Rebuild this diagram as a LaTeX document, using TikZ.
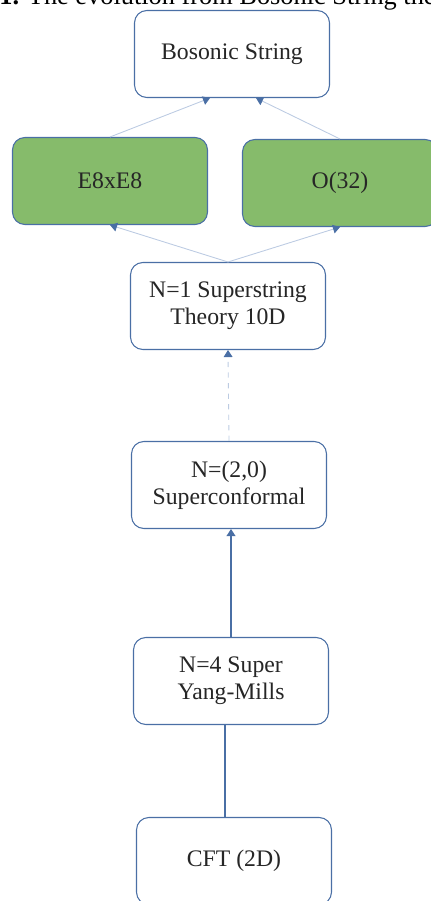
\documentclass[tikz,border=0pt]{standalone}
\usepackage{fontspec}
\setmainfont{Liberation Serif}
\usetikzlibrary{arrows.meta}
\definecolor{boxblue}{HTML}{4A6FA5}
\definecolor{boxgreen}{HTML}{86BB6B}
\definecolor{linkblue}{HTML}{BCCBE2}
\begin{document}
\begin{tikzpicture}[x=0.02cm, y=-0.02cm,
	theory/.style={shape=rectangle, rounded corners=7pt, draw=boxblue, line width=0.6pt,
		fill=white, minimum width=3.9cm, minimum height=1.74cm, align=center,
		font=\fontsize{13.5}{15.5}\selectfont, text=black!85},
	branch/.style={theory, fill=boxgreen},
	tip/.style={-{Triangle[width=5pt, length=4pt, color=boxblue]}},
	faint/.style={draw=linkblue, line width=0.5pt},
	strong/.style={draw=boxblue, line width=0.8pt}]
	\useasboundingbox (0,0) rectangle (431,901);
	\draw (-1,5) node[anchor=base west, font=\fontsize{15}{17}\selectfont, inner sep=0pt](caption){\textbf{1.} The evolution from Bosonic String theory};
	
	\draw (232,54) node[theory](bosonic){Bosonic String};
	\draw (110,181) node[branch](e8){E8xE8};
	\draw (340,183) node[branch](o32){O(32)};
	\draw (228,306) node[theory](super){N=1 Superstring\\Theory 10D};
	\draw (229,485) node[theory](conf){N=(2,0)\\Superconformal};
	\draw (231,681) node[theory](sym){N=4 Super\\Yang-Mills};
	\draw (234,861) node[theory](cft){CFT (2D)};
	
	\draw [faint, tip](e8.north) -- (bosonic.south -| 210,0);
	\draw [faint, tip](o32.north) -- (bosonic.south -| 256,0);
	\draw [faint, tip](super.north) -- (e8.south);
	\draw [faint, tip](super.north) -- (o32.south);
	\draw [faint, dashed, tip](conf.north) -- (super.south);
	\draw [strong, tip](sym.north) -- (sym.north |- conf.south);
	\draw [strong](cft.north -| 225,0) -- (sym.south -| 225,0);
\end{tikzpicture}
\end{document}
